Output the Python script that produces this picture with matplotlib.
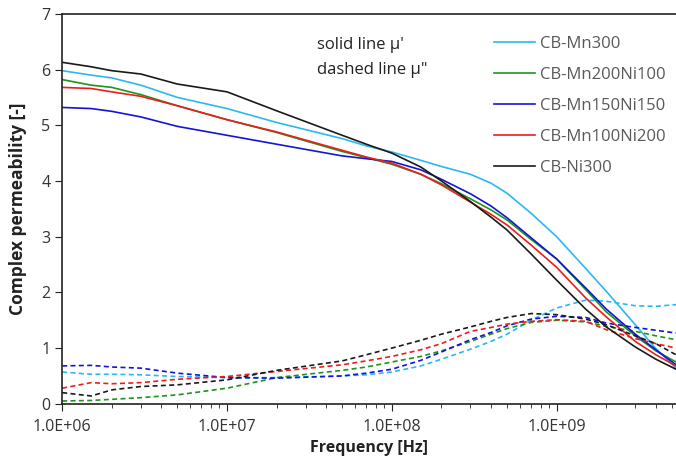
import matplotlib
matplotlib.use('Agg')
import matplotlib.pyplot as plt
from matplotlib.ticker import FixedLocator, LogLocator, NullFormatter

plt.rcParams['font.family'] = ['Open Sans', 'DejaVu Sans']

# frequency grid (Hz)
freq = [1e6, 1.5e6, 2e6, 3e6, 5e6, 1e7, 2e7, 5e7, 7e7, 1e8, 1.5e8, 2e8, 3e8,
        4e8, 5e8, 7e8, 1e9, 1.5e9, 2e9, 3e9, 4e9, 5.3e9]

names = ['CB-Mn300', 'CB-Mn200Ni100', 'CB-Mn150Ni150', 'CB-Mn100Ni200', 'CB-Ni300']
colors = ['#2bb8f0', '#1c951c', '#1414d8', '#ee1d1d', '#1a1a1a']

# real part mu'
mu_re_mn300 = [5.98, 5.90, 5.85, 5.72, 5.50, 5.30, 5.05, 4.76, 4.63, 4.52, 4.37,
               4.26, 4.12, 3.96, 3.78, 3.42, 3.00, 2.43, 2.02, 1.42, 0.99, 0.64]
mu_re_mn200ni100 = [5.82, 5.72, 5.68, 5.55, 5.35, 5.10, 4.87, 4.53, 4.42, 4.30, 4.12,
                    3.95, 3.68, 3.48, 3.30, 2.95, 2.60, 2.05, 1.65, 1.22, 0.95, 0.75]
mu_re_mn150ni150 = [5.32, 5.30, 5.25, 5.15, 4.98, 4.82, 4.66, 4.45, 4.40, 4.35, 4.20,
                    4.03, 3.77, 3.55, 3.34, 2.98, 2.60, 2.08, 1.70, 1.25, 0.97, 0.70]
mu_re_mn100ni200 = [5.68, 5.66, 5.60, 5.52, 5.35, 5.10, 4.88, 4.55, 4.43, 4.32, 4.12,
                    3.93, 3.62, 3.40, 3.21, 2.85, 2.45, 1.90, 1.56, 1.12, 0.88, 0.68]
mu_re_ni300 = [6.13, 6.05, 5.98, 5.92, 5.74, 5.60, 5.26, 4.82, 4.66, 4.50, 4.25,
               4.00, 3.63, 3.35, 3.12, 2.69, 2.22, 1.70, 1.38, 1.02, 0.80, 0.62]

# imaginary part mu''
mu_im_mn300 = [0.57, 0.53, 0.53, 0.52, 0.49, 0.47, 0.47, 0.50, 0.52, 0.57, 0.68,
               0.80, 0.98, 1.12, 1.25, 1.50, 1.72, 1.86, 1.84, 1.76, 1.75, 1.78]
mu_im_mn200ni100 = [0.05, 0.06, 0.08, 0.11, 0.16, 0.28, 0.47, 0.60, 0.66, 0.75, 0.85,
                    0.95, 1.12, 1.25, 1.35, 1.46, 1.50, 1.47, 1.39, 1.30, 1.22, 1.15]
mu_im_mn150ni150 = [0.68, 0.69, 0.66, 0.64, 0.55, 0.47, 0.46, 0.50, 0.55, 0.62, 0.78,
                    0.93, 1.15, 1.28, 1.40, 1.52, 1.57, 1.55, 1.45, 1.37, 1.32, 1.27]
mu_im_mn100ni200 = [0.28, 0.38, 0.36, 0.38, 0.44, 0.49, 0.58, 0.70, 0.77, 0.85, 0.97,
                    1.08, 1.30, 1.37, 1.43, 1.48, 1.51, 1.48, 1.33, 1.17, 1.08, 1.00]
mu_im_ni300 = [0.20, 0.14, 0.25, 0.31, 0.34, 0.43, 0.60, 0.77, 0.88, 1.00, 1.14,
               1.25, 1.38, 1.48, 1.55, 1.62, 1.60, 1.52, 1.42, 1.22, 1.08, 0.88]

mu_re = [mu_re_mn300, mu_re_mn200ni100, mu_re_mn150ni150, mu_re_mn100ni200, mu_re_ni300]
mu_im = [mu_im_mn300, mu_im_mn200ni100, mu_im_mn150ni150, mu_im_mn100ni200, mu_im_ni300]

fig = plt.figure(figsize=(6.76, 4.62), dpi=100)
ax = fig.add_axes([0.092, 0.126, 0.908, 0.844])

for name, c, re, im in zip(names, colors, mu_re, mu_im):
    ax.plot(freq, re, color=c, lw=1.2, label=name)
    ax.plot(freq, im, color=c, lw=1.2, linestyle=(0, (3, 2)))

ax.set_xscale('log')
ax.set_xlim(1e6, 5.3e9)
ax.set_ylim(0, 7)
ax.yaxis.set_major_locator(FixedLocator(range(8)))
ax.xaxis.set_major_locator(FixedLocator([1e6, 1e7, 1e8, 1e9]))
ax.set_xticklabels(['1.0E+06', '1.0E+07', '1.0E+08', '1.0E+09'])
ax.xaxis.set_minor_locator(LogLocator(base=10, subs=range(2, 10)))
ax.xaxis.set_minor_formatter(NullFormatter())

ax.spines['right'].set_visible(False)
for s in ['left', 'bottom', 'top']:
    ax.spines[s].set_color('#222222')
    ax.spines[s].set_linewidth(1.2)
ax.tick_params(axis='both', which='major', direction='out', length=5,
               labelsize=11.5, labelcolor='#333333', color='#222222')
ax.tick_params(axis='x', which='minor', direction='out', length=3, color='#222222')
ax.tick_params(axis='x', pad=6)

ax.set_xlabel('Frequency [Hz]', fontsize=11.5, fontweight='bold', color='#222222')
ax.set_ylabel('Complex permeability [-]', fontsize=12.5, fontweight='bold', color='#222222')
ax.xaxis.set_label_coords(0.5, -0.092)
ax.yaxis.set_label_coords(-0.058, 0.5)

ax.text(0.415, 0.921, "solid line \u03bc'", transform=ax.transAxes, fontsize=12,
        va='center', color='#222222')
ax.text(0.415, 0.856, 'dashed line \u03bc"', transform=ax.transAxes, fontsize=12,
        va='center', color='#222222')

leg = ax.legend(loc='upper left', bbox_to_anchor=(0.692, 0.961), frameon=False,
                fontsize=12, handlelength=2.46, handletextpad=0.3,
                labelspacing=0.9, borderaxespad=0)
for t in leg.get_texts():
    t.set_color('#595959')

fig.savefig('out.png', dpi=100)
